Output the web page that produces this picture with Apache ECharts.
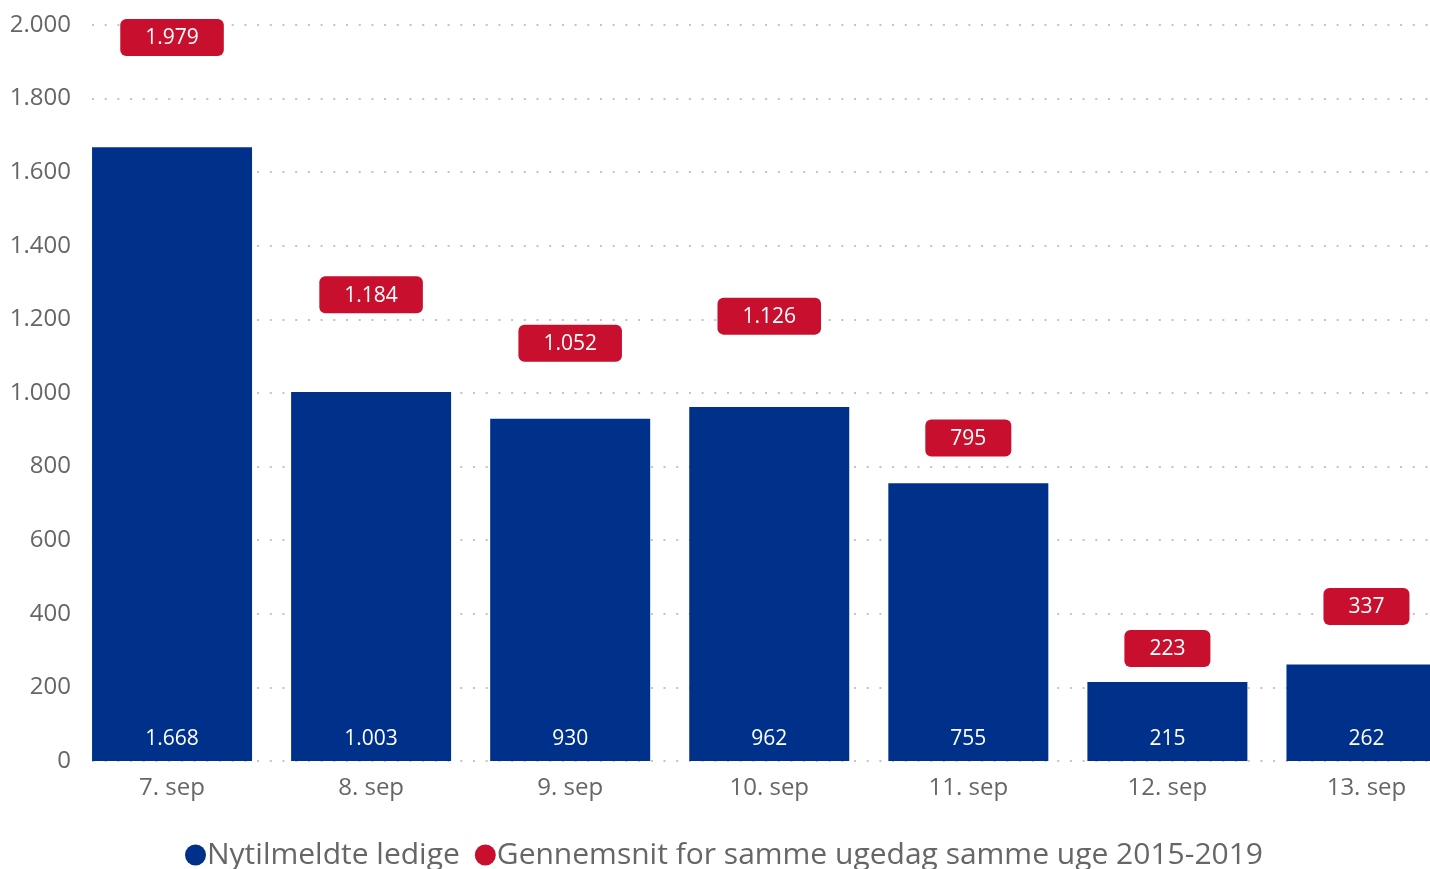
<!DOCTYPE html>
<html><head><meta charset="utf-8">
<script src="https://cdn.jsdelivr.net/npm/echarts@6/dist/echarts.min.js"></script>
<style>html,body{margin:0;padding:0;background:#fff;overflow:hidden;width:1430px;height:869px}#c{width:1466px;height:869px}</style>
</head><body><div id="c"></div>
<script>
const categories = ['7. sep', '8. sep', '9. sep', '10. sep', '11. sep', '12. sep', '13. sep'];
const nytilmeldte = [1668, 1003, 930, 962, 755, 215, 262];
const gennemsnit = [1979, 1184, 1052, 1126, 795, 223, 337];
const seriesNames = ['Nytilmeldte ledige', 'Gennemsnit for samme ugedag samme uge 2015-2019'];
const yMin = 0, yMax = 2000, yStep = 200;

const BLUE = '#00318A', RED = '#C8102E', TXT = '#666666', FONT = 'Open Sans';
function fmt(v) { return String(v).replace(/\B(?=(\d{3})+(?!\d))/g, '.'); }

const chart = echarts.init(document.getElementById('c'), null, { renderer: 'canvas' });
chart.setOption({
  animation: false,
  textStyle: { fontFamily: FONT },
  grid: [
    { left: 92, right: 36, top: 25, bottom: 108 },
    { left: 72.5, right: 0, top: 25, bottom: 108 }
  ],
  legend: {
    bottom: -6, left: 180,
    icon: 'circle', itemWidth: 21, itemHeight: 21, itemGap: 15,
    itemStyle: { opacity: 1 },
    textStyle: { fontFamily: FONT, fontSize: 30, color: TXT, padding: [0, 0, 0, -4] },
    data: seriesNames
  },
  xAxis: [
    { type: 'category', gridIndex: 0, data: categories, show: false },
    { type: 'category', gridIndex: 1, data: categories,
      axisLine: { show: false }, axisTick: { show: false },
      axisLabel: { fontFamily: FONT, fontSize: 24, color: TXT, margin: 15 } }
  ],
  yAxis: [
    { type: 'value', gridIndex: 0, min: yMin, max: yMax, interval: yStep,
      axisLine: { show: false }, axisTick: { show: false },
      axisLabel: { fontFamily: FONT, fontSize: 24, color: TXT, margin: 21, formatter: fmt },
      splitLine: { show: true, lineStyle: { color: '#c4c4c4', width: 2, type: [2, 10.7] } } },
    { type: 'value', gridIndex: 1, min: yMin, max: yMax, interval: yStep, show: false,
      splitLine: { show: false } }
  ],
  series: [
    { name: seriesNames[0], type: 'bar', xAxisIndex: 1, yAxisIndex: 1,
      data: nytilmeldte, barWidth: 160, z: 3,
      itemStyle: { color: BLUE },
      label: { show: true, position: 'insideBottom', distance: 11, color: '#fff',
        fontFamily: FONT, fontSize: 21, formatter: p => fmt(p.value) } },
    { name: seriesNames[1], type: 'scatter', xAxisIndex: 1, yAxisIndex: 1,
      data: gennemsnit, symbolSize: 0, z: 5,
      itemStyle: { color: RED, opacity: 1 },
      label: { show: true, position: 'top', distance: 12, color: '#fff',
        fontFamily: FONT, fontSize: 21, lineHeight: 21,
        backgroundColor: RED, borderRadius: 6, padding: [9, 25, 7, 25],
        formatter: p => fmt(p.value) },
      labelLayout: p => (p.labelRect.y < 19 ? { dy: 19 - p.labelRect.y } : {}) }
  ]
});
</script></body></html>
